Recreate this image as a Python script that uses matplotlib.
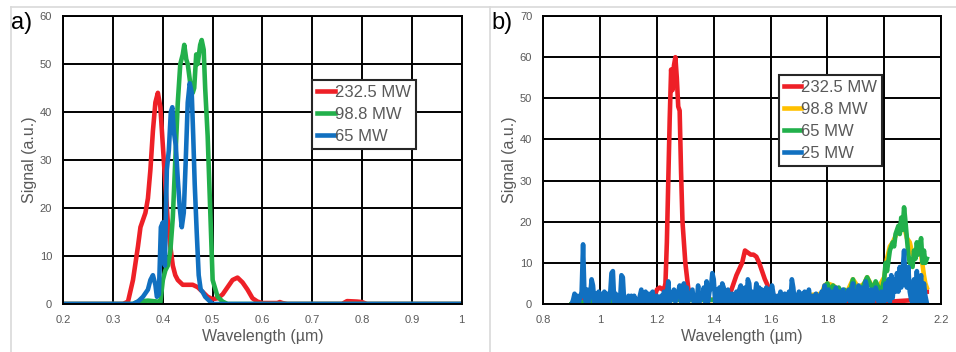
import numpy as np
import matplotlib
matplotlib.use("Agg")
import matplotlib.pyplot as plt
from matplotlib.lines import Line2D

plt.rcParams['font.family'] = ['Liberation Sans', 'DejaVu Sans']

# ---------------- panel a) data ----------------
a_red_x = [0.2, 0.32, 0.33, 0.34, 0.35, 0.355, 0.36, 0.365, 0.37, 0.375, 0.38, 0.385,
           0.39, 0.395, 0.40, 0.405, 0.41, 0.415, 0.42, 0.425, 0.43, 0.435, 0.44, 0.45,
           0.46, 0.47, 0.48, 0.49, 0.50, 0.51, 0.52, 0.53, 0.54, 0.55, 0.56, 0.57, 0.58,
           0.59, 0.60, 0.63, 0.635, 0.64, 0.65, 0.76, 0.77, 0.79, 0.80, 0.81, 1.0]
a_red_y = [0, 0, 0.5, 5, 12, 16, 17.5, 19, 22, 28, 36, 42,
           44, 41, 33, 25, 17, 12, 8, 6, 5, 4.5, 4, 4,
           4, 3.5, 2.5, 1.5, 1, 1.2, 2, 3.5, 5, 5.5, 4.5, 3, 1.2,
           0.5, 0.2, 0.2, 0.4, 0.2, 0, 0, 0.6, 0.5, 0.4, 0, 0]

a_green_x = [0.2, 0.34, 0.35, 0.37, 0.39, 0.395, 0.40, 0.405, 0.41, 0.415, 0.42, 0.425,
             0.43, 0.435, 0.44, 0.443, 0.447, 0.45, 0.455, 0.46, 0.463, 0.467, 0.47,
             0.475, 0.478, 0.482, 0.485, 0.49, 0.495, 0.50, 0.51, 0.52, 0.53, 1.0]
a_green_y = [0, 0, 0.5, 0.7, 0.5, 0.3, 5, 7, 8, 11, 18, 30,
             42, 50, 52, 54, 51, 50, 46, 44, 45, 52, 50,
             54, 55, 53, 45, 35, 20, 5, 1.5, 0.5, 0, 0]

a_blue_x = [0.2, 0.34, 0.35, 0.36, 0.37, 0.375, 0.38, 0.385, 0.388, 0.392, 0.396,
            0.40, 0.404, 0.408, 0.412, 0.416, 0.419, 0.422, 0.426, 0.43, 0.434, 0.438,
            0.442, 0.446, 0.45, 0.454, 0.458, 0.461, 0.464, 0.468, 0.472, 0.476, 0.48,
            0.485, 0.49, 0.495, 0.50, 0.51, 1.0]
a_blue_y = [0, 0, 0.5, 1.5, 3, 5, 6, 4, 1.5, 2, 16,
            17, 8, 28, 32, 40, 41, 36, 33, 26, 20, 16,
            19, 30, 42, 46, 44, 35, 25, 15, 6, 3, 2.5, 1.5, 1, 0.5, 0, 0, 0]

# ---------------- panel b) data ----------------
b_red_x = [0.9, 0.92, 1.0, 1.1, 1.19, 1.20, 1.21, 1.22, 1.225, 1.23, 1.235, 1.24,
           1.245, 1.25, 1.255, 1.26, 1.265, 1.27, 1.275, 1.28, 1.285, 1.29, 1.30,
           1.31, 1.32, 1.35, 1.40, 1.45, 1.46, 1.48, 1.50, 1.51, 1.52, 1.53, 1.54,
           1.55, 1.56, 1.57, 1.58, 1.59, 1.60, 1.62, 1.63, 1.70, 1.80, 2.00, 2.12,
           2.14, 2.15]
b_red_y = [0, 1, 1, 1, 1.5, 3.5, 4, 3.5, 3.5, 5, 15, 30,
           45, 57, 52, 58, 60, 55, 48, 47, 32, 20, 10,
           4, 1.5, 1, 1, 1.5, 3, 7, 10, 13, 12.5, 12, 12,
           11.5, 10, 8, 6, 4.5, 3, 1.5, 0.5, 0.5, 0.5, 0.5, 1,
           3, 3]

b_yellow_x = [0.9, 0.95, 1.0, 1.2, 1.4, 1.6, 1.78, 1.79, 1.80, 1.82, 1.83, 1.85, 1.87,
              1.89, 1.91, 1.93, 1.94, 1.96, 1.98, 2.00, 2.01, 2.02, 2.03, 2.05, 2.07,
              2.08, 2.09, 2.10, 2.11, 2.12, 2.13, 2.14, 2.145, 2.15]
b_yellow_y = [0, 0.5, 1, 1, 1, 1, 2.5, 4.5, 5, 4.5, 4, 3, 3,
              6, 4, 5, 6.5, 4, 4, 6.5, 11, 14, 15, 18, 19,
              16, 15, 12, 12, 13, 12, 7, 5, 4]

b_green_x = [0.9, 0.95, 1.0, 1.1, 1.2, 1.3, 1.4, 1.5, 1.6, 1.7, 1.78, 1.79, 1.80,
             1.81, 1.82, 1.83, 1.84, 1.85, 1.86, 1.87, 1.88, 1.89, 1.90, 1.91, 1.92,
             1.93, 1.94, 1.95, 1.96, 1.97, 1.98, 1.99, 2.00, 2.005, 2.01, 2.02, 2.03,
             2.035, 2.04, 2.05, 2.055, 2.06, 2.065, 2.07, 2.075, 2.08, 2.085, 2.09,
             2.10, 2.105, 2.11, 2.115, 2.12, 2.125, 2.13, 2.135, 2.14, 2.145, 2.15]
b_green_y = [0, 0.5, 1, 0.5, 1, 1, 1, 1, 1, 1, 2, 4, 5,
             3, 4.5, 3.5, 4, 2.5, 3.5, 2.5, 3, 6, 3, 4, 3.5,
             5, 6.5, 5, 3.5, 5.5, 4, 3, 6, 10, 8, 13, 15,
             14, 17, 19, 17, 21, 18, 23.5, 20, 16, 12, 10,
             9, 13, 11, 15, 12, 14, 16, 10, 13, 10, 11]

# 25 MW trace, sampled every 0.005 um from 0.90 to 2.15
b_blue_y = [0, 1, 2.5, 0.5, 2, 0.5, 1.5, 3, 14.5, 2, 0.5, 3.5, 0.5, 2, 6, 4.5, 0.3, 2.5, 0.5, 3,
            0.5, 2.5, 0.5, 3, 0.5, 2.5, 0.3, 2, 7.5, 8, 0.3, 2.5, 0.5, 2, 0.5, 7, 6.5, 0.3, 0.5, 0.3,
            2, 0.5, 2, 0.3, 2, 0.5, 1, 0.3, 2, 3.5, 0.5, 1.5, 3, 0.5, 2.5, 0.5, 2.5, 3, 0.5, 1,
            2, 0.5, 1, 2, 0.3, 3, 0.5, 2.5, 5.5, 0.5, 1, 2, 3.5, 0.5, 2, 3, 4.5, 0.5, 4, 5,
            0.5, 4, 0.5, 1.5, 2.5, 3.5, 0.3, 1.5, 0.5, 4.5, 0.5, 1.5, 2, 4, 0.5, 5.5, 0.5, 3, 4, 7.5,
            6, 0.5, 3.5, 0.5, 4, 0.5, 5, 4, 0.3, 2, 3.5, 0.3, 2, 2.5, 0.5, 2, 3, 0.5, 3.5, 4.5,
            0.5, 3, 4, 0.5, 6, 5, 0.5, 3, 0.5, 2, 5, 0.5, 4, 0.5, 3.5, 0.3, 2, 4, 0.5, 3.5,
            0.5, 4.5, 2.5, 0.5, 1.5, 2, 0.3, 3, 0.3, 1.5, 2.5, 0.5, 1, 3, 0.5, 6, 4, 0.3, 2, 0.5,
            3, 0.5, 2.5, 0.3, 3, 0.5, 1.5, 3.5, 0.5, 1, 2, 0.5, 2.5, 0.5, 2, 0.3, 3, 0.5, 4.5, 3,
            0.5, 3.5, 2.5, 0.5, 3, 0.5, 4, 0.5, 3, 0.5, 1.5, 3.5, 0.5, 1, 2.5, 3.5, 0.5, 1.5, 5, 0.5,
            3, 0.5, 4.5, 0.5, 3, 4, 0.5, 5.5, 4, 0.5, 3, 3.5, 0.5, 1.5, 4, 3, 0.5, 0.3, 3, 0.5,
            0.5, 5, 1, 6, 0.5, 7, 1.5, 6, 3, 7.5, 3, 9, 4, 8, 13, 5, 4, 9, 3, 1,
            0.3, 6, 0.5, 8, 0.5, 5, 7, 0.5, 5, 2, 0.3]
b_blue_x = np.linspace(0.90, 2.15, len(b_blue_y))

RED = '#EE2027'
GREEN = '#22B04B'
BLUE = '#1170C0'
YELLOW = '#FFC000'
GRAY = '#595959'

fig = plt.figure(figsize=(9.56, 3.52), dpi=100)

# light gray panel frames
for seg in [((11, 956), (345, 345)), ((11, 11), (0, 345)), ((490, 490), (0, 345))]:
    xs = [v / 956 for v in seg[0]]
    ys = [v / 352 for v in seg[1]]
    fig.add_artist(Line2D(xs, ys, color='#D9D9D9', lw=1.2))


def style_axes(ax, xlim, xticks, ylim, yticks):
    ax.set_xlim(*xlim)
    ax.set_ylim(*ylim)
    ax.set_xticks(xticks)
    ax.set_yticks(yticks)
    ax.grid(True, color='black', lw=1.4)
    ax.set_axisbelow(True)
    for s in ax.spines.values():
        s.set_color('black')
        s.set_linewidth(1.4)
    ax.tick_params(length=0, labelsize=8, labelcolor=GRAY, pad=8)
    ax.set_xlabel('Wavelength (µm)', fontsize=11.5, color=GRAY, labelpad=3)
    ax.set_ylabel('Signal (a.u.)', fontsize=11.5, color=GRAY, labelpad=2)


def add_legend(ax, anchor):
    leg = ax.legend(loc='upper left', bbox_to_anchor=anchor, fontsize=12,
                    handlelength=1.05, handletextpad=0.0, borderpad=0.3,
                    labelspacing=0.42, borderaxespad=0, fancybox=False, framealpha=1,
                    edgecolor='#262626', labelcolor=GRAY)
    leg.get_frame().set_linewidth(1.5)
    return leg


lw = 3.3

ax1 = fig.add_axes([0.0662, 0.1364, 0.4166, 0.818])
ax1.plot(a_red_x, a_red_y, color=RED, lw=lw, label='232.5 MW', solid_joinstyle='round')
ax1.plot(a_green_x, a_green_y, color=GREEN, lw=lw, label='98.8 MW', solid_joinstyle='round')
ax1.plot(a_blue_x, a_blue_y, color=BLUE, lw=lw, label='65 MW', solid_joinstyle='round')
style_axes(ax1, (0.2, 1.0), [0.2, 0.3, 0.4, 0.5, 0.6, 0.7, 0.8, 0.9, 1.0],
           (0, 60), range(0, 61, 10))
ax1.set_xticklabels(['0.2', '0.3', '0.4', '0.5', '0.6', '0.7', '0.8', '0.9', '1'])
add_legend(ax1, (0.625, 0.778))
fig.text(0.011, 0.935, 'a)', fontsize=17, color='black', va='center')

ax2 = fig.add_axes([0.5683, 0.1364, 0.416, 0.818])
ax2.plot(b_red_x, b_red_y, color=RED, lw=lw, label='232.5 MW', solid_joinstyle='round')
ax2.plot(b_yellow_x, b_yellow_y, color=YELLOW, lw=lw, label='98.8 MW', solid_joinstyle='round')
ax2.plot(b_green_x, b_green_y, color=GREEN, lw=lw, label='65 MW', solid_joinstyle='round')
ax2.plot(b_blue_x, b_blue_y, color=BLUE, lw=lw, label='25 MW', solid_joinstyle='round')
style_axes(ax2, (0.8, 2.2), [0.8, 1.0, 1.2, 1.4, 1.6, 1.8, 2.0, 2.2],
           (0, 70), range(0, 71, 10))
ax2.set_xticklabels(['0.8', '1', '1.2', '1.4', '1.6', '1.8', '2', '2.2'])
add_legend(ax2, (0.592, 0.797))
fig.text(0.514, 0.935, 'b)', fontsize=17, color='black', va='center')

fig.savefig('out.png', dpi=100)
